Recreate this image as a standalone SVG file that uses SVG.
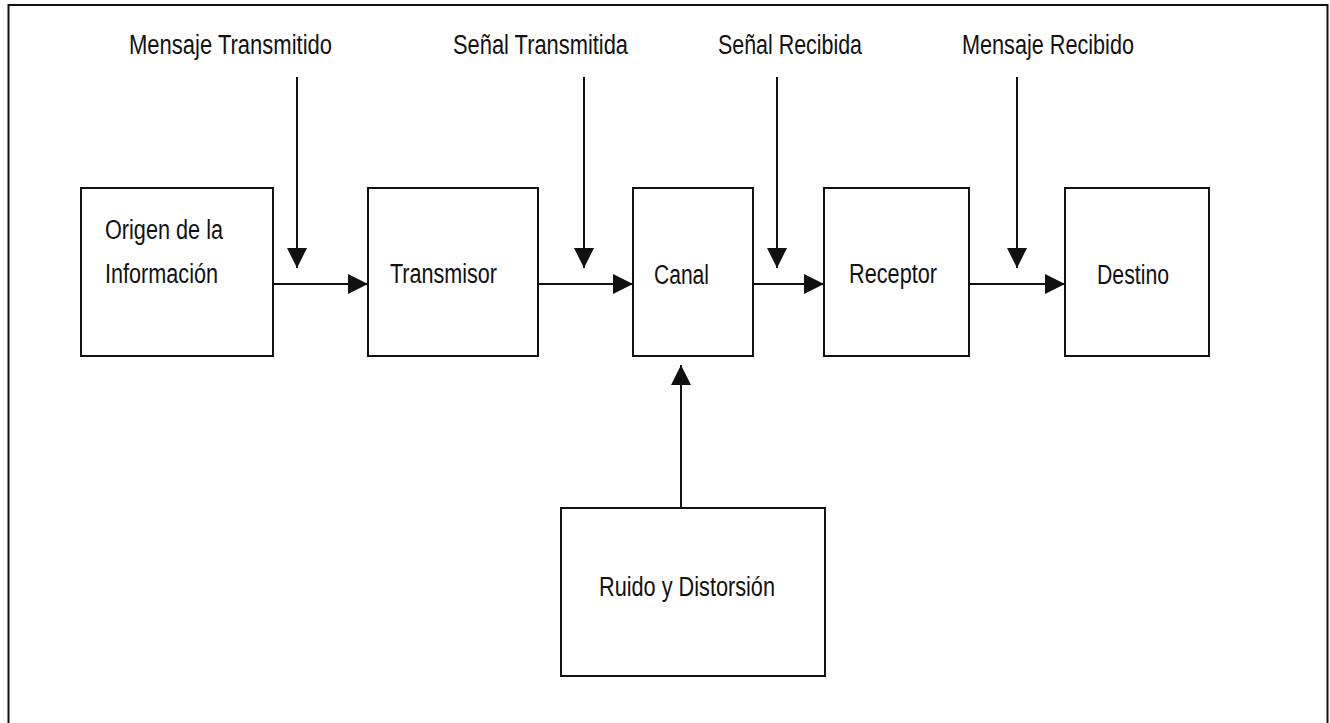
<svg xmlns="http://www.w3.org/2000/svg" width="1330" height="723" viewBox="0 0 1330 723">
  <style>
    .box { fill: #ffffff; stroke: #111111; stroke-width: 2; }
    .wire { fill: none; stroke: #111111; stroke-width: 2; marker-end: url(#head); }
    text { font-family: "Liberation Sans Narrow", "Liberation Sans", Arial, sans-serif; font-size: 27px; fill: #111111; }
  </style>
  <defs>
    <marker id="head" markerUnits="userSpaceOnUse" markerWidth="20" markerHeight="20" refX="20" refY="10" orient="auto">
      <path d="M0,0 L20,10 L0,20 Z" fill="#111111"/>
    </marker>
  </defs>

  <rect width="1330" height="723" fill="#ffffff"/>
  <!-- outer frame (bottom edge runs past the canvas) -->
  <rect x="8.5" y="5" width="1319" height="730" fill="none" stroke="#111111" stroke-width="2"/>

  <!-- signal labels along the top -->
  <g id="labels">
    <text x="129" y="54" textLength="203" lengthAdjust="spacingAndGlyphs">Mensaje Transmitido</text>
    <text x="453" y="54" textLength="175" lengthAdjust="spacingAndGlyphs">Señal Transmitida</text>
    <text x="718" y="54" textLength="144" lengthAdjust="spacingAndGlyphs">Señal Recibida</text>
    <text x="962" y="54" textLength="172" lengthAdjust="spacingAndGlyphs">Mensaje Recibido</text>
  </g>

  <g id="origen">
    <rect class="box" x="81" y="188" width="192" height="168"/>
    <text x="105" y="239" textLength="118" lengthAdjust="spacingAndGlyphs">Origen de la</text>
    <text x="105" y="283" textLength="113" lengthAdjust="spacingAndGlyphs">Información</text>
  </g>
  <g id="transmisor">
    <rect class="box" x="368" y="188" width="170" height="168"/>
    <text x="390" y="283" textLength="107" lengthAdjust="spacingAndGlyphs">Transmisor</text>
  </g>
  <g id="canal">
    <rect class="box" x="633" y="188" width="120" height="168"/>
    <text x="654" y="284" textLength="55" lengthAdjust="spacingAndGlyphs">Canal</text>
  </g>
  <g id="receptor">
    <rect class="box" x="824" y="188" width="145" height="168"/>
    <text x="849" y="283" textLength="88" lengthAdjust="spacingAndGlyphs">Receptor</text>
  </g>
  <g id="destino">
    <rect class="box" x="1065" y="188" width="144" height="168"/>
    <text x="1097" y="284" textLength="72" lengthAdjust="spacingAndGlyphs">Destino</text>
  </g>
  <g id="ruido">
    <rect class="box" x="561" y="508" width="264" height="168"/>
    <text x="599" y="596" textLength="176" lengthAdjust="spacingAndGlyphs">Ruido y Distorsión</text>
  </g>

  <g id="connectors">
    <!-- main chain -->
    <line class="wire" x1="273" y1="284" x2="368" y2="284"/>
    <line class="wire" x1="538" y1="284" x2="633" y2="284"/>
    <line class="wire" x1="753" y1="284" x2="824" y2="284"/>
    <line class="wire" x1="969" y1="284" x2="1065" y2="284"/>
    <!-- label pointers -->
    <line class="wire" x1="297" y1="77" x2="297" y2="268"/>
    <line class="wire" x1="584" y1="77" x2="584" y2="268"/>
    <line class="wire" x1="777" y1="77" x2="777" y2="268"/>
    <line class="wire" x1="1017" y1="77" x2="1017" y2="268"/>
    <!-- noise into channel -->
    <line class="wire" x1="681" y1="508" x2="681" y2="365"/>
  </g>
</svg>
